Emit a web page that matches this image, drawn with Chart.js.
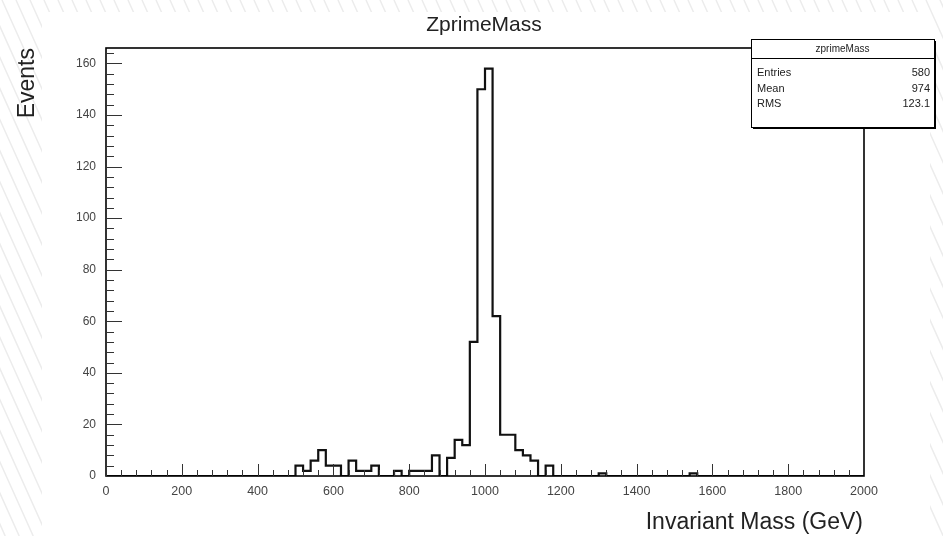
<!DOCTYPE html>
<html>
<head>
<meta charset="utf-8">
<title>ZprimeMass</title>
<script src="https://cdn.jsdelivr.net/npm/chart.js@4.4.0/dist/chart.umd.min.js"></script>
<style>
  html, body { margin: 0; padding: 0; background: #fff; }
  #wrap { width: 943px; height: 536px; }
</style>
</head>
<body>
<div id="wrap"><canvas id="hist" width="943" height="536"></canvas></div>
<script>
// histogram data: 100 bins of 20 GeV from 0 to 2000
var binWidth = 20;
var xMin = 0;
var xMax = 2000;
var yMax = 166;
var counts = [
  0, 0, 0, 0, 0, 0, 0, 0, 0, 0,       // 0 - 200
  0, 0, 0, 0, 0, 0, 0, 0, 0, 0,       // 200 - 400
  0, 0, 0, 0, 0, 4, 2, 6, 10, 4,      // 400 - 600
  4, 0, 6, 2, 2, 4, 0, 0, 2, 0,       // 600 - 800
  2, 2, 2, 8, 0, 7, 14, 12, 52, 150,  // 800 - 1000
  158, 62, 16, 16, 10, 8, 6, 0, 4, 0, // 1000 - 1200
  0, 0, 0, 0, 0, 1, 0, 0, 0, 0,       // 1200 - 1400
  0, 0, 0, 0, 0, 0, 0, 1, 0, 0,       // 1400 - 1600
  0, 0, 0, 0, 0, 0, 0, 0, 0, 0,       // 1600 - 1800
  0, 0, 0, 0, 0, 0, 0, 0, 0, 0        // 1800 - 2000
];
var xTicks = [0, 200, 400, 600, 800, 1000, 1200, 1400, 1600, 1800, 2000];
var yTicks = [0, 20, 40, 60, 80, 100, 120, 140, 160];
var xMinorStep = 40;
var yMinorStep = 4;

var titleText = 'ZprimeMass';
var xTitle = 'Invariant Mass (GeV)';
var yTitle = 'Events';
var statsName = 'zprimeMass';
var statsLabels = ['Entries', 'Mean', 'RMS'];
var statsValues = ['580', '974', '123.1'];

var fontFam = '"Liberation Sans", Arial, Helvetica, sans-serif';

// points at the left edge of each bin, plus the closing edge
var points = counts.map(function (c, i) {
  return { x: xMin + i * binWidth, y: c };
});
points.push({ x: xMax, y: counts[counts.length - 1] });

// hatched page background + white pad
var backgroundPlugin = {
  id: 'rootPad',
  beforeDraw: function (chart) {
    var ctx = chart.ctx;
    ctx.save();
    ctx.fillStyle = '#fff';
    ctx.fillRect(0, 0, chart.width, chart.height);
    ctx.strokeStyle = '#ececec';
    ctx.lineWidth = 1.5;
    ctx.beginPath();
    for (var s = -600; s < chart.width + 600; s += 14) {
      ctx.moveTo(s, 0);
      ctx.lineTo(s + chart.height * 0.45, chart.height);
    }
    ctx.stroke();
    ctx.fillStyle = '#fff';
    ctx.fillRect(42, 12, 888, 524);
    ctx.restore();
  }
};

// frame, inward ticks, titles and stats box
var decorPlugin = {
  id: 'rootDecor',
  afterDraw: function (chart) {
    var ctx = chart.ctx;
    var a = chart.chartArea;
    var xs = chart.scales.x;
    var ys = chart.scales.y;
    ctx.save();

    ctx.strokeStyle = '#000';
    ctx.lineWidth = 1.6;
    ctx.strokeRect(a.left, a.top, a.right - a.left, a.bottom - a.top);

    ctx.lineWidth = 1;
    ctx.strokeStyle = '#333';
    ctx.beginPath();
    var v, p;
    for (v = xMin; v <= xMax; v += xMinorStep) {
      p = Math.round(xs.getPixelForValue(v)) + 0.5;
      var len = (v % 200 === 0) ? 12 : 6;
      ctx.moveTo(p, a.bottom);
      ctx.lineTo(p, a.bottom - len);
    }
    for (v = 0; v <= yMax; v += yMinorStep) {
      p = Math.round(ys.getPixelForValue(v)) + 0.5;
      var lenY = (v % 20 === 0) ? 16 : 8;
      ctx.moveTo(a.left, p);
      ctx.lineTo(a.left + lenY, p);
    }
    ctx.stroke();

    // main title
    ctx.fillStyle = '#222';
    ctx.font = '21px ' + fontFam;
    ctx.textAlign = 'center';
    ctx.textBaseline = 'middle';
    ctx.fillText(titleText, 484, 25);

    // x title, right aligned to axis end
    ctx.font = '23px ' + fontFam;
    ctx.textAlign = 'right';
    ctx.textBaseline = 'alphabetic';
    ctx.fillText(xTitle, a.right - 1, 529);

    // y title, rotated, at top of axis
    ctx.save();
    ctx.translate(34, a.top);
    ctx.rotate(-Math.PI / 2);
    ctx.textAlign = 'right';
    ctx.textBaseline = 'alphabetic';
    ctx.font = '23px ' + fontFam;
    ctx.fillText(yTitle, 0, 0);
    ctx.restore();

    // stats box
    var bx = 751, by = 39, bw = 183, bh = 88;
    ctx.fillStyle = '#000';
    ctx.fillRect(bx + 2, by + 2, bw, bh);
    ctx.fillStyle = '#fff';
    ctx.fillRect(bx, by, bw, bh);
    ctx.strokeStyle = '#000';
    ctx.lineWidth = 1;
    ctx.strokeRect(bx + 0.5, by + 0.5, bw, bh);
    ctx.beginPath();
    ctx.moveTo(bx, by + 19.5);
    ctx.lineTo(bx + bw, by + 19.5);
    ctx.stroke();

    ctx.fillStyle = '#222';
    ctx.font = '10px ' + fontFam;
    ctx.textAlign = 'center';
    ctx.textBaseline = 'middle';
    ctx.fillText(statsName, bx + bw / 2, by + 10);
    ctx.font = '11px ' + fontFam;
    for (var i = 0; i < statsLabels.length; i++) {
      var ty = by + 34 + i * 15.5;
      ctx.textAlign = 'left';
      ctx.fillText(statsLabels[i], bx + 6, ty);
      ctx.textAlign = 'right';
      ctx.fillText(statsValues[i], bx + bw - 4, ty);
    }
    ctx.restore();
  }
};

var ctx = document.getElementById('hist').getContext('2d');
new Chart(ctx, {
  type: 'line',
  data: {
    datasets: [{
      label: statsName,
      data: points,
      stepped: true,
      borderColor: '#111',
      borderWidth: 2.2,
      pointRadius: 0,
      fill: false,
      tension: 0
    }]
  },
  options: {
    responsive: false,
    animation: false,
    layout: { padding: { left: 0, top: 48, right: 79, bottom: 0 } },
    plugins: {
      legend: { display: false },
      tooltip: { enabled: false },
      title: { display: false }
    },
    scales: {
      x: {
        type: 'linear',
        min: xMin,
        max: xMax,
        grid: { display: false, drawTicks: false },
        border: { display: false },
        afterBuildTicks: function (s) { s.ticks = xTicks.map(function (t) { return { value: t }; }); },
        afterFit: function (s) { s.height = 60; },
        ticks: {
          autoSkip: false,
          maxRotation: 0,
          padding: 8,
          color: '#444',
          font: { size: 12.5, family: fontFam },
          callback: function (v) { return String(v); }
        }
      },
      y: {
        min: 0,
        max: yMax,
        grid: { display: false, drawTicks: false },
        border: { display: false },
        afterBuildTicks: function (s) { s.ticks = yTicks.map(function (t) { return { value: t }; }); },
        afterFit: function (s) { s.width = 106; },
        ticks: {
          padding: 10,
          color: '#444',
          font: { size: 12, family: fontFam },
          callback: function (v) { return String(v); }
        }
      }
    }
  },
  plugins: [backgroundPlugin, decorPlugin]
});
</script>
</body>
</html>
